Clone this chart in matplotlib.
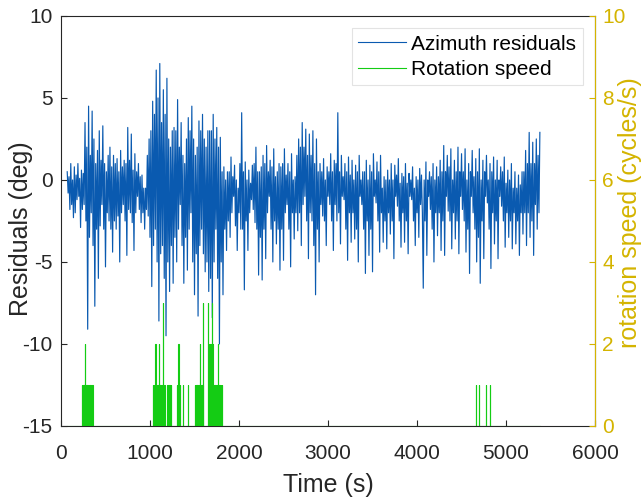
import matplotlib
matplotlib.use("Agg")
import matplotlib.pyplot as plt
import numpy as np

plt.rcParams['font.family'] = ['Liberation Sans', 'DejaVu Sans']
plt.rcParams['axes.unicode_minus'] = False

# azimuth residuals (deg), one value every 10 s starting at t = 70 s
resid = [
    0.5, -0.8, 0.2, -1.8, 1.0, -1.5, 0.0, -2.3, 0.8, -2.0, 0.3, -1.2, 1.0, -1.0, 0.1, -2.9, 0.6, -1.8, 0.4, -1.5,
    3.5, -2.5, 2.0, -9.1, 4.5, -3.5, 1.5, -2.0, 4.2, -4.0, 2.5, -7.7, 1.0, -3.0, 1.8, -6.0, 3.0, -2.8, 1.2, -1.5,
    3.3, -3.0, 1.0, -5.3, 0.5, -2.0, 1.5, -2.5, 2.0, -3.0, 0.8, -4.4, 1.5, -2.5, 1.0, -3.0, 1.3, -2.2, 0.5, -5.0,
    1.8, -2.0, 0.8, -1.5, 1.2, -2.5, 1.0, -4.6, 3.2, -1.8, 1.2, -2.0, 2.8, -2.6, 0.6, -4.3, 1.6, -2.0, 0.5, -1.0,
    1.0, -1.8, 0.2, -2.6, 0.3, -2.0, -0.5, -3.0, -0.5, -1.8, 1.5, -2.2, 2.5, -3.5, 3.0, -6.5, 4.8, -4.0, 4.0, -3.0,
    6.7, -5.0, 5.0, -8.6, 7.1, -4.5, 3.5, -4.0, 5.5, -6.0, 4.0, -9.5, 6.2, -5.0, 2.5, -6.8, 2.0, -4.0, 3.0, -6.3,
    3.2, -3.5, 3.0, -5.0, 4.9, -3.0, 2.0, -1.5, 3.5, -4.0, 1.5, -6.3, 1.0, -3.5, 2.5, -5.5, 3.8, -3.0, 3.0, -2.0,
    4.5, -5.0, 2.5, -7.0, 1.5, -4.5, 2.0, -8.3, 3.6, -4.0, 3.0, -3.0, 4.0, -4.5, 2.5, -5.6, 2.0, -5.0, 3.0, -6.8,
    3.0, -6.0, 3.0, -8.4, 4.0, -5.0, 2.5, -3.0, 3.2, -6.0, 2.0, -10.0, 2.6, -5.0, 0.5, -7.0, 0.8, -3.0, 0.0, -4.3,
    0.5, -2.5, 0.5, -3.5, 1.4, -2.0, 0.2, -1.0, 0.9, -2.8, 0.0, -4.3, -0.5, -2.0, 1.0, -3.0, 4.1, -3.0, 0.5, -6.7,
    1.1, -2.5, 0.0, -4.3, 0.6, -2.0, -0.2, -1.2, 0.9, -1.8, 1.0, -2.6, 2.0, -3.0, 0.5, -5.8, 0.5, -3.5, 0.8, -6.1,
    1.5, -3.0, 1.0, -4.8, 2.1, -2.0, 0.5, -1.0, 1.2, -3.0, 0.8, -5.0, 1.9, -2.5, 0.2, -3.9, 0.5, -3.0, 1.0, -5.5,
    0.8, -3.0, 1.0, -4.9, 1.9, -2.0, 0.3, -1.5, 1.0, -3.0, 0.5, -5.3, 1.6, -2.0, 0.0, -3.6, 0.2, -2.0, 1.5, -3.1,
    2.5, -2.0, 2.0, -4.0, 3.5, -1.5, 2.0, -1.0, 3.1, -2.5, 1.5, -4.8, 2.8, -2.0, 1.5, -2.5, 3.0, -4.0, 1.0, -7.0,
    2.5, -3.0, 0.5, -5.0, 1.0, -1.5, 0.5, -2.2, 1.3, -2.5, 0.0, -4.0, 0.8, -1.0, 0.5, -1.5, 1.6, -2.5, 0.5, -4.3,
    1.2, -1.5, 1.0, -2.5, 4.1, -2.0, 0.5, -3.9, 1.5, -1.0, 0.2, -1.2, 1.0, -3.0, 0.5, -4.9, 1.4, -2.0, 0.3, -3.8,
    1.2, -2.0, 0.0, -3.6, 0.9, -3.0, 0.5, -5.0, 1.5, -1.0, 0.0, -1.5, 0.5, -3.0, 0.5, -5.7, 1.2, -2.5, 0.0, -4.6,
    0.9, -3.0, 0.5, -5.6, 1.6, -1.0, 0.0, -1.4, 1.1, -2.5, 0.5, -4.4, 1.5, -2.0, -0.5, -3.8, 0.2, -2.5, 0.0, -4.2,
    0.6, -2.0, 0.0, -3.3, 1.0, -2.5, 0.0, -4.8, 0.9, -1.0, 0.3, -1.6, 1.3, -2.5, -0.2, -4.1, 0.4, -2.0, 0.2, -3.8,
    1.0, -2.5, -0.2, -4.5, 0.4, -1.0, 0.0, -1.2, 0.8, -2.5, -0.5, -4.0, 0.2, -2.0, 0.0, -3.5, 0.7, -1.5, 0.3, -2.0,
    -6.6, 0.0, -2.5, 1.1, -4.6, 0.0, -1.0, 0.5, -1.8, 0.2, -3.0, 1.0, -5.0, 0.0, -2.0, 0.8, -3.4, 0.2, -2.0, 1.2,
    -4.3, 0.5, -2.5, 2.1, -4.6, 0.5, -1.0, 1.5, -1.9, 0.8, -2.5, 1.9, -4.2, 0.0, -2.0, 1.2, -3.6, 0.5, -2.5, 2.0,
    -4.5, 0.5, -1.0, 1.6, -1.8, 0.5, -2.5, 1.9, -4.4, 0.0, -3.0, 1.0, -5.7, 0.5, -1.0, 1.8, -2.0, 0.2, -3.0, 1.3,
    -5.0, 0.5, -3.5, 1.9, -6.3, 0.0, -2.5, 1.2, -4.8, 0.5, -1.0, 1.5, -1.4, 0.0, -3.0, 1.0, -5.4, 0.5, -2.0, 1.4,
    -3.9, 0.0, -2.5, 1.2, -4.8, 0.0, -1.0, 0.8, -1.6, 0.5, -2.5, 1.4, -4.1, -0.2, -2.0, 0.6, -3.5, 0.0, -2.5, 1.0,
    -4.2, -0.5, -2.0, 0.5, -3.9, -0.5, -2.5, 0.3, -4.6, -0.3, -2.0, 0.5, -3.3, 0.5, -2.0, 1.8, -4.0, 1.0, -2.0, 2.9,
    -3.5, 1.0, -2.5, 2.3, -4.6, 1.0, -1.5, 2.5, -3.0, 1.5, -2.0, 2.9,
]
t0 = 70
dt = 10

# rotation speed pulses (start time s, level cycles/s), each 4 s long
pulse_start = [236, 244, 252, 262, 270, 278, 286, 294, 304, 312, 320, 328, 336, 344, 352,
               1034, 1042, 1058, 1066, 1074, 1082, 1098, 1106, 1114, 1130, 1138, 1146,
               1154, 1162, 1170, 1186, 1194, 1202, 1210, 1218, 1226, 1234,
               1303, 1311, 1319, 1327, 1335, 1371, 1427,
               1506, 1514, 1522, 1530, 1538, 1546, 1554, 1562, 1570, 1578, 1586, 1594,
               1652, 1660, 1668, 1676, 1684, 1692, 1700,
               1716, 1724, 1732, 1740, 1748, 1756, 1764, 1772, 1780, 1788, 1796, 1804,
               4663, 4697, 4775, 4820]
pulse_level = [1, 1, 1, 1, 2, 1, 1, 1, 1, 1, 1, 1, 1, 1, 1,
               1, 1, 2, 1, 1, 1, 2, 1, 1, 1, 1, 3,
               1, 1, 1, 1, 1, 1, 1, 1, 1, 1,
               1, 1, 2, 1, 1, 1, 1,
               1, 1, 1, 1, 1, 1, 1, 2, 1, 1, 1, 3,
               3, 2, 1, 2, 1, 3, 2,
               1, 1, 1, 1, 1, 1, 2, 1, 1, 1, 1, 1,
               1, 1, 1, 1]
pulse_w = 4
t_end = 5380

t_res = t0 + dt * np.arange(len(resid))

rot_t = [t0]
rot_v = [0]
for s, l in zip(pulse_start, pulse_level):
    rot_t += [s, s + pulse_w]
    rot_v += [l, 0]
rot_t.append(t_end)
rot_v.append(0)

dark = '#262626'
yellow = '#d4b400'

fig = plt.figure(figsize=(6.44, 4.98), dpi=100)
ax = fig.add_axes([0.0947, 0.1446, 0.8293, 0.8234])
l1, = ax.plot(t_res, resid, color='#0a5ab0', lw=0.85, label='Azimuth residuals')
ax.set_xlim(0, 6000)
ax.set_ylim(-15, 10)
ax.set_xticks(np.arange(0, 6001, 1000))
ax.set_yticks(np.arange(-15, 11, 5))
ax.set_xlabel('Time (s)', fontsize=18, color=dark, labelpad=7)
ax.set_ylabel('Residuals (deg)', fontsize=18, color=dark)
ax.yaxis.set_label_coords(-0.052, 0.48)
ax.tick_params(direction='in', length=4, labelsize=15, colors=dark, right=False)
ax.tick_params(axis='x', pad=13)
ax.tick_params(axis='y', pad=6)
for sp in ax.spines.values():
    sp.set_color(dark)
    sp.set_linewidth(0.8)

ax2 = ax.twinx()
l2, = ax2.plot(rot_t, rot_v, color='#14cc14', lw=0.8, drawstyle='steps-post',
               label='Rotation speed')
ax2.set_ylim(0, 10)
ax2.set_yticks(np.arange(0, 11, 2))
ax2.set_ylabel('rotation speed (cycles/s)', fontsize=18, color=yellow)
ax2.yaxis.set_label_coords(1.043, 0.52)
ax2.tick_params(axis='y', direction='in', length=4, labelsize=15, colors=yellow, pad=5)
ax2.spines['right'].set_color(yellow)
ax2.spines['right'].set_linewidth(0.8)
for k in ['left', 'top', 'bottom']:
    ax2.spines[k].set_visible(False)

leg = ax2.legend([l1, l2], ['Azimuth residuals', 'Rotation speed'], loc='upper right',
                 fontsize=15, frameon=True, fancybox=False, framealpha=1,
                 edgecolor='#e3e3e3', handlelength=2.3, handletextpad=0.25,
                 borderpad=0.3, labelspacing=0.3, borderaxespad=0.6)
leg.get_frame().set_linewidth(0.8)
for h in leg.get_lines():
    h.set_linewidth(0.8)

fig.savefig('out.png', dpi=100)
